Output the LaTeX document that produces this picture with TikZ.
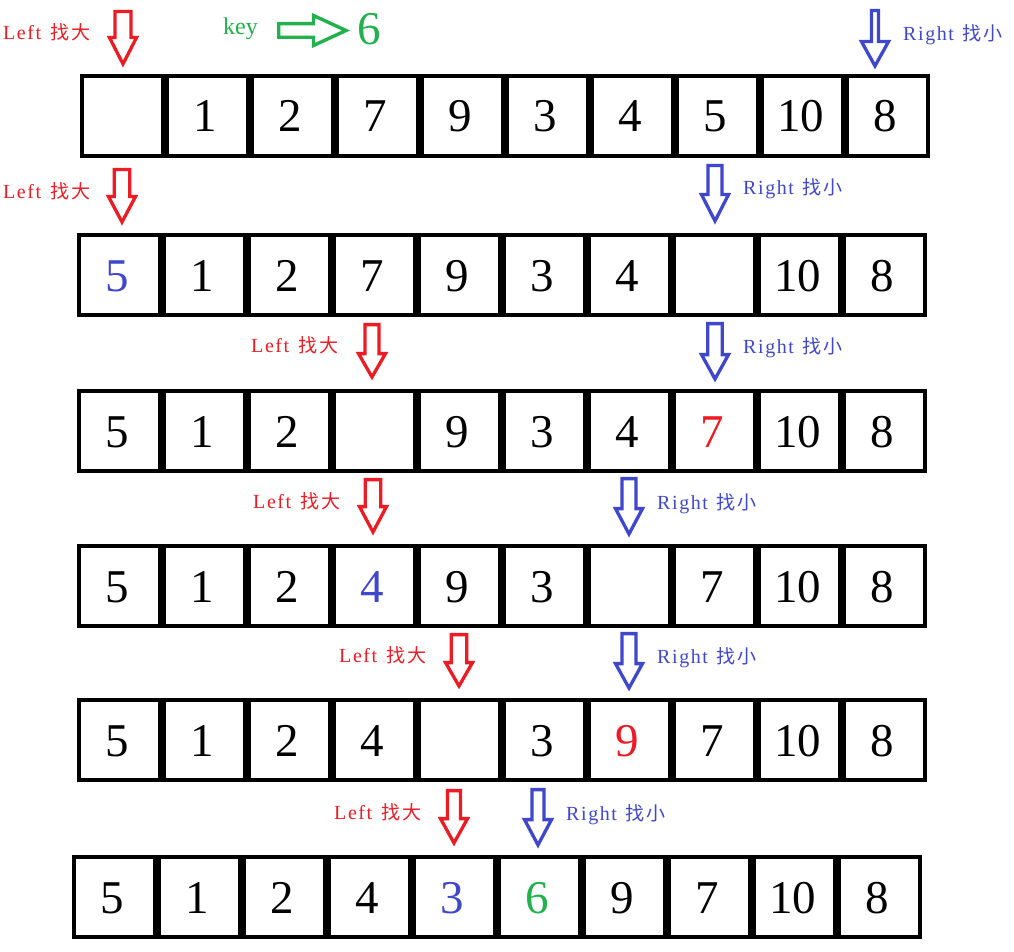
\documentclass[tikz,border=0pt]{standalone}
\usepackage{fontspec}
\setmainfont{Liberation Serif}
\newfontfamily\latf[LetterSpace=8]{Liberation Serif}
\newfontfamily\cjkf[LetterSpace=12]{Noto Sans CJK SC}
\definecolor{pred}{RGB}{237,28,36}
\definecolor{pblue}{RGB}{63,72,204}
\definecolor{pgreen}{RGB}{34,177,76}
\tikzset{
  cellbox/.style={draw=black, line width=4pt, minimum width=81pt, minimum height=80pt, inner sep=0pt, fill=white},
  digit/.style={inner sep=0pt, font=\fontsize{47}{47}\selectfont},
  arrowline/.style={line width=3.3pt, line join=miter, fill=white},
  lbl/.style={inner sep=0pt, anchor=base west, font=\fontsize{20}{20}\selectfont},
}
\def\emptymark{x}
\newcommand\cellrow[4]{%
  \foreach \v/\c [count=\i from 0] in {#4} {
    \node[cellbox] (#1c\i) at ({#2+85*\i+42.5},{#3+42}) {};
    \ifx\v\emptymark\else
      \node[digit, text=\c, anchor=base] (#1d\i) at ({#2+85*\i+40.5},{#3+58}) {\v};
    \fi
  }}
\newcommand\dnArrow[6]{% color, cx, top, headstart, tip, shaft half width
  \draw[arrowline, draw=#1] ({#2-#6},{#3+1.6}) -- ({#2+#6},{#3+1.6}) -- ({#2+#6},{#4+1.6})
    -- ({#2+13.5},{#4+1.6}) -- (#2,{#5-4}) -- ({#2-13.5},{#4+1.6}) -- ({#2-#6},{#4+1.6}) -- cycle;}
\newcommand\leftlbl[3]{\node[lbl, text=pred] (#1) at (#2,#3) {{\latf Left}\hspace{9pt}{\cjkf\fontsize{19}{19}\selectfont 找大}};}
\newcommand\rightlbl[3]{\node[lbl, text=pblue] (#1) at (#2,#3) {{\latf Right}\hspace{8pt}{\cjkf\fontsize{19}{19}\selectfont 找小}};}
\begin{document}
\begin{tikzpicture}[x=1pt, y=-1pt]
\useasboundingbox (0,0) rectangle (1014,952);
\fill[white] (0,0) rectangle (1014,952);

% key
\node[inner sep=0pt, anchor=base west, text=pgreen, font=\fontsize{24}{24}\selectfont] (keylbl) at (223,35) {key};
\draw[line width=3.4pt, line join=miter, draw=pgreen, fill=white]
  (278.7,23.7) -- (313.5,23.7) -- (313.5,15.5) -- (346,30.5) -- (313.5,45.5) -- (313.5,37.3) -- (278.7,37.3) -- cycle;
\node[digit, text=pgreen, anchor=base] (keyval) at (369,45) {6};

% rows
\cellrow{r1}{80}{74}{x/black,1/black,2/black,7/black,9/black,3/black,4/black,5/black,10/black,8/black}
\cellrow{r2}{77}{233}{5/pblue,1/black,2/black,7/black,9/black,3/black,4/black,x/black,10/black,8/black}
\cellrow{r3}{77}{389}{5/black,1/black,2/black,x/black,9/black,3/black,4/black,7/pred,10/black,8/black}
\cellrow{r4}{77}{544}{5/black,1/black,2/black,4/pblue,9/black,3/black,x/black,7/black,10/black,8/black}
\cellrow{r5}{77}{698}{5/black,1/black,2/black,4/black,x/black,3/black,9/pred,7/black,10/black,8/black}
\cellrow{r6}{72}{855}{5/black,1/black,2/black,4/black,3/pblue,6/pgreen,9/black,7/black,10/black,8/black}

% arrows
\dnArrow{pred}{123}{10}{36}{68}{8}
\dnArrow{pblue}{875}{9}{40}{70}{3.5}
\dnArrow{pred}{122}{168}{195}{226}{7.8}
\dnArrow{pblue}{715}{164}{193}{225}{7}
\dnArrow{pred}{372}{323}{352}{381}{7}
\dnArrow{pblue}{715}{322}{353}{383}{7.3}
\dnArrow{pred}{373}{478}{505}{536}{7.8}
\dnArrow{pblue}{629}{477}{507}{538}{7}
\dnArrow{pred}{459}{633}{661}{690}{7.8}
\dnArrow{pblue}{629}{632}{662}{692}{7}
\dnArrow{pred}{454}{789}{817}{847}{6.5}
\dnArrow{pblue}{538}{788}{818}{849}{6}

% labels
\leftlbl{l1}{3}{40}
\rightlbl{rt1}{903}{41}
\leftlbl{l2}{3}{198}
\rightlbl{rt2}{743}{195}
\leftlbl{l3}{251}{352}
\rightlbl{rt3}{743}{353}
\leftlbl{l4}{253}{508}
\rightlbl{rt4}{657}{509}
\leftlbl{l5}{339}{662}
\rightlbl{rt5}{657}{663}
\leftlbl{l6}{334}{819}
\rightlbl{rt6}{566}{820}
\end{tikzpicture}
\end{document}
